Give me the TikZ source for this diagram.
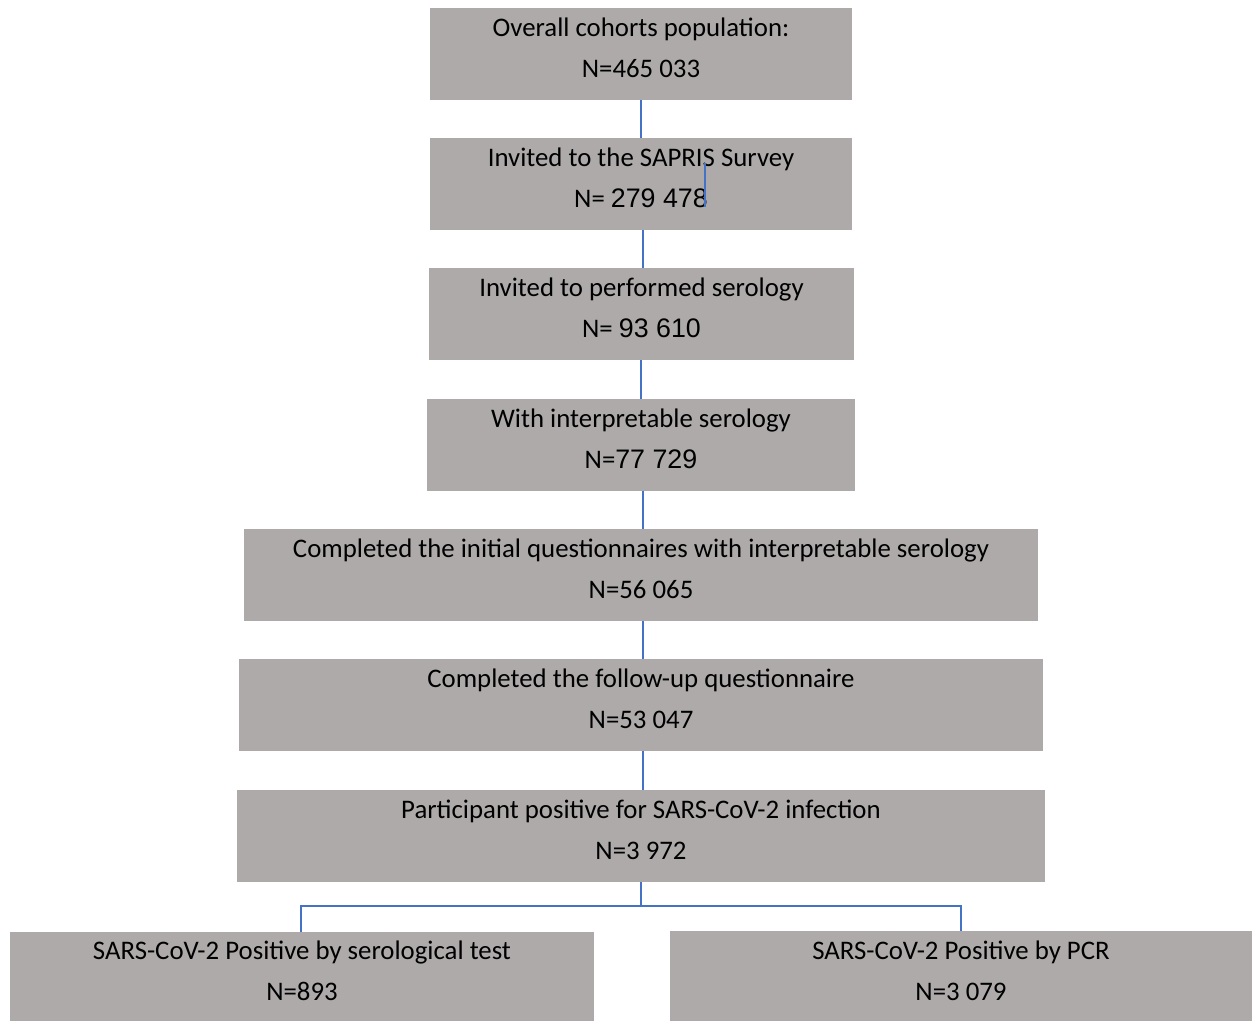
\documentclass[tikz,border=0pt]{standalone}
\usepackage{fontspec}
\setmainfont{Carlito}
\newfontfamily\arialf{Liberation Sans}
\definecolor{boxgray}{RGB}{174,170,170}
\definecolor{linkblue}{RGB}{68,114,196}
\begin{document}
\begin{tikzpicture}[x=1pt,y=-1pt,
  box/.style={fill=boxgray, draw=none, inner sep=0pt, outer sep=0pt},
  txt/.style={anchor=base, inner sep=0pt, font=\fontsize{26.8}{32}\selectfont},
  link/.style={draw=linkblue, line width=1.3pt}]
\useasboundingbox (0,0) rectangle (1252,1021);
% boxes
\node[box, minimum width=422pt, minimum height=92pt] (b1) at (641,54) {};
\node[box, minimum width=422pt, minimum height=92pt] (b2) at (641,184) {};
\node[box, minimum width=425pt, minimum height=92pt] (b3) at (641.5,314) {};
\node[box, minimum width=428pt, minimum height=92pt] (b4) at (641,445) {};
\node[box, minimum width=794pt, minimum height=92pt] (b5) at (641,575) {};
\node[box, minimum width=804pt, minimum height=92pt] (b6) at (641,705) {};
\node[box, minimum width=808pt, minimum height=92pt] (b7) at (641,836) {};
\node[box, minimum width=584pt, minimum height=89pt] (b8) at (302,976.5) {};
\node[box, minimum width=582pt, minimum height=90pt] (b9) at (961,976) {};
% texts
\node[txt] (t1a) at ([yshift=-28pt]b1.north) {Overall cohorts population:};
\node[txt] (t1b) at ([yshift=-69pt]b1.north) {N=465 033};
\node[txt] (t2a) at ([yshift=-28pt]b2.north) {Invited to the SAPRIS Survey};
\node[txt] (t2b) at ([yshift=-69pt]b2.north) {N= {\arialf 279 478}};
\node[txt] (t3a) at ([yshift=-28pt]b3.north) {Invited to performed serology};
\node[txt] (t3b) at ([yshift=-69pt]b3.north) {N= {\arialf 93 610}};
\node[txt] (t4a) at ([yshift=-28pt]b4.north) {With interpretable serology};
\node[txt] (t4b) at ([yshift=-69pt]b4.north) {N={\arialf 77 729}};
\node[txt] (t5a) at ([yshift=-28pt]b5.north) {Completed the initial questionnaires with interpretable serology};
\node[txt] (t5b) at ([yshift=-69pt]b5.north) {N=56 065};
\node[txt] (t6a) at ([yshift=-28pt]b6.north) {Completed the follow-up questionnaire};
\node[txt] (t6b) at ([yshift=-69pt]b6.north) {N=53 047};
\node[txt] (t7a) at ([yshift=-28pt]b7.north) {Participant positive for SARS-CoV-2 infection};
\node[txt] (t7b) at ([yshift=-69pt]b7.north) {N=3 972};
\node[txt] (t8a) at ([yshift=-27pt]b8.north) {SARS-CoV-2 Positive by serological test};
\node[txt] (t8b) at ([yshift=-68pt]b8.north) {N=893};
\node[txt] (t9a) at ([yshift=-28pt]b9.north) {SARS-CoV-2 Positive by PCR};
\node[txt] (t9b) at ([yshift=-69pt]b9.north) {N=3 079};
% connectors
\draw[link] (b1.south) -- (b2.north);
\draw[link] ([xshift=2pt]b2.south) -- ([xshift=1.5pt]b3.north);
\draw[link] ([xshift=-0.5pt]b3.south) -- (b4.north);
\draw[link] ([xshift=2pt]b4.south) -- ([xshift=2pt]b5.north);
\draw[link] ([xshift=2pt]b5.south) -- ([xshift=2pt]b6.north);
\draw[link] ([xshift=2pt]b6.south) -- ([xshift=2pt]b7.north);
\coordinate (split) at ([yshift=-24pt]b7.south);
\draw[link] (b7.south) -- (split) -| ([xshift=-1pt]b8.north);
\draw[link] (split) -| (b9.north);
\coordinate (s1) at (705,163);
\coordinate (s2) at (705,207);
\draw[link] (s1) -- (s2);
\end{tikzpicture}
\end{document}
